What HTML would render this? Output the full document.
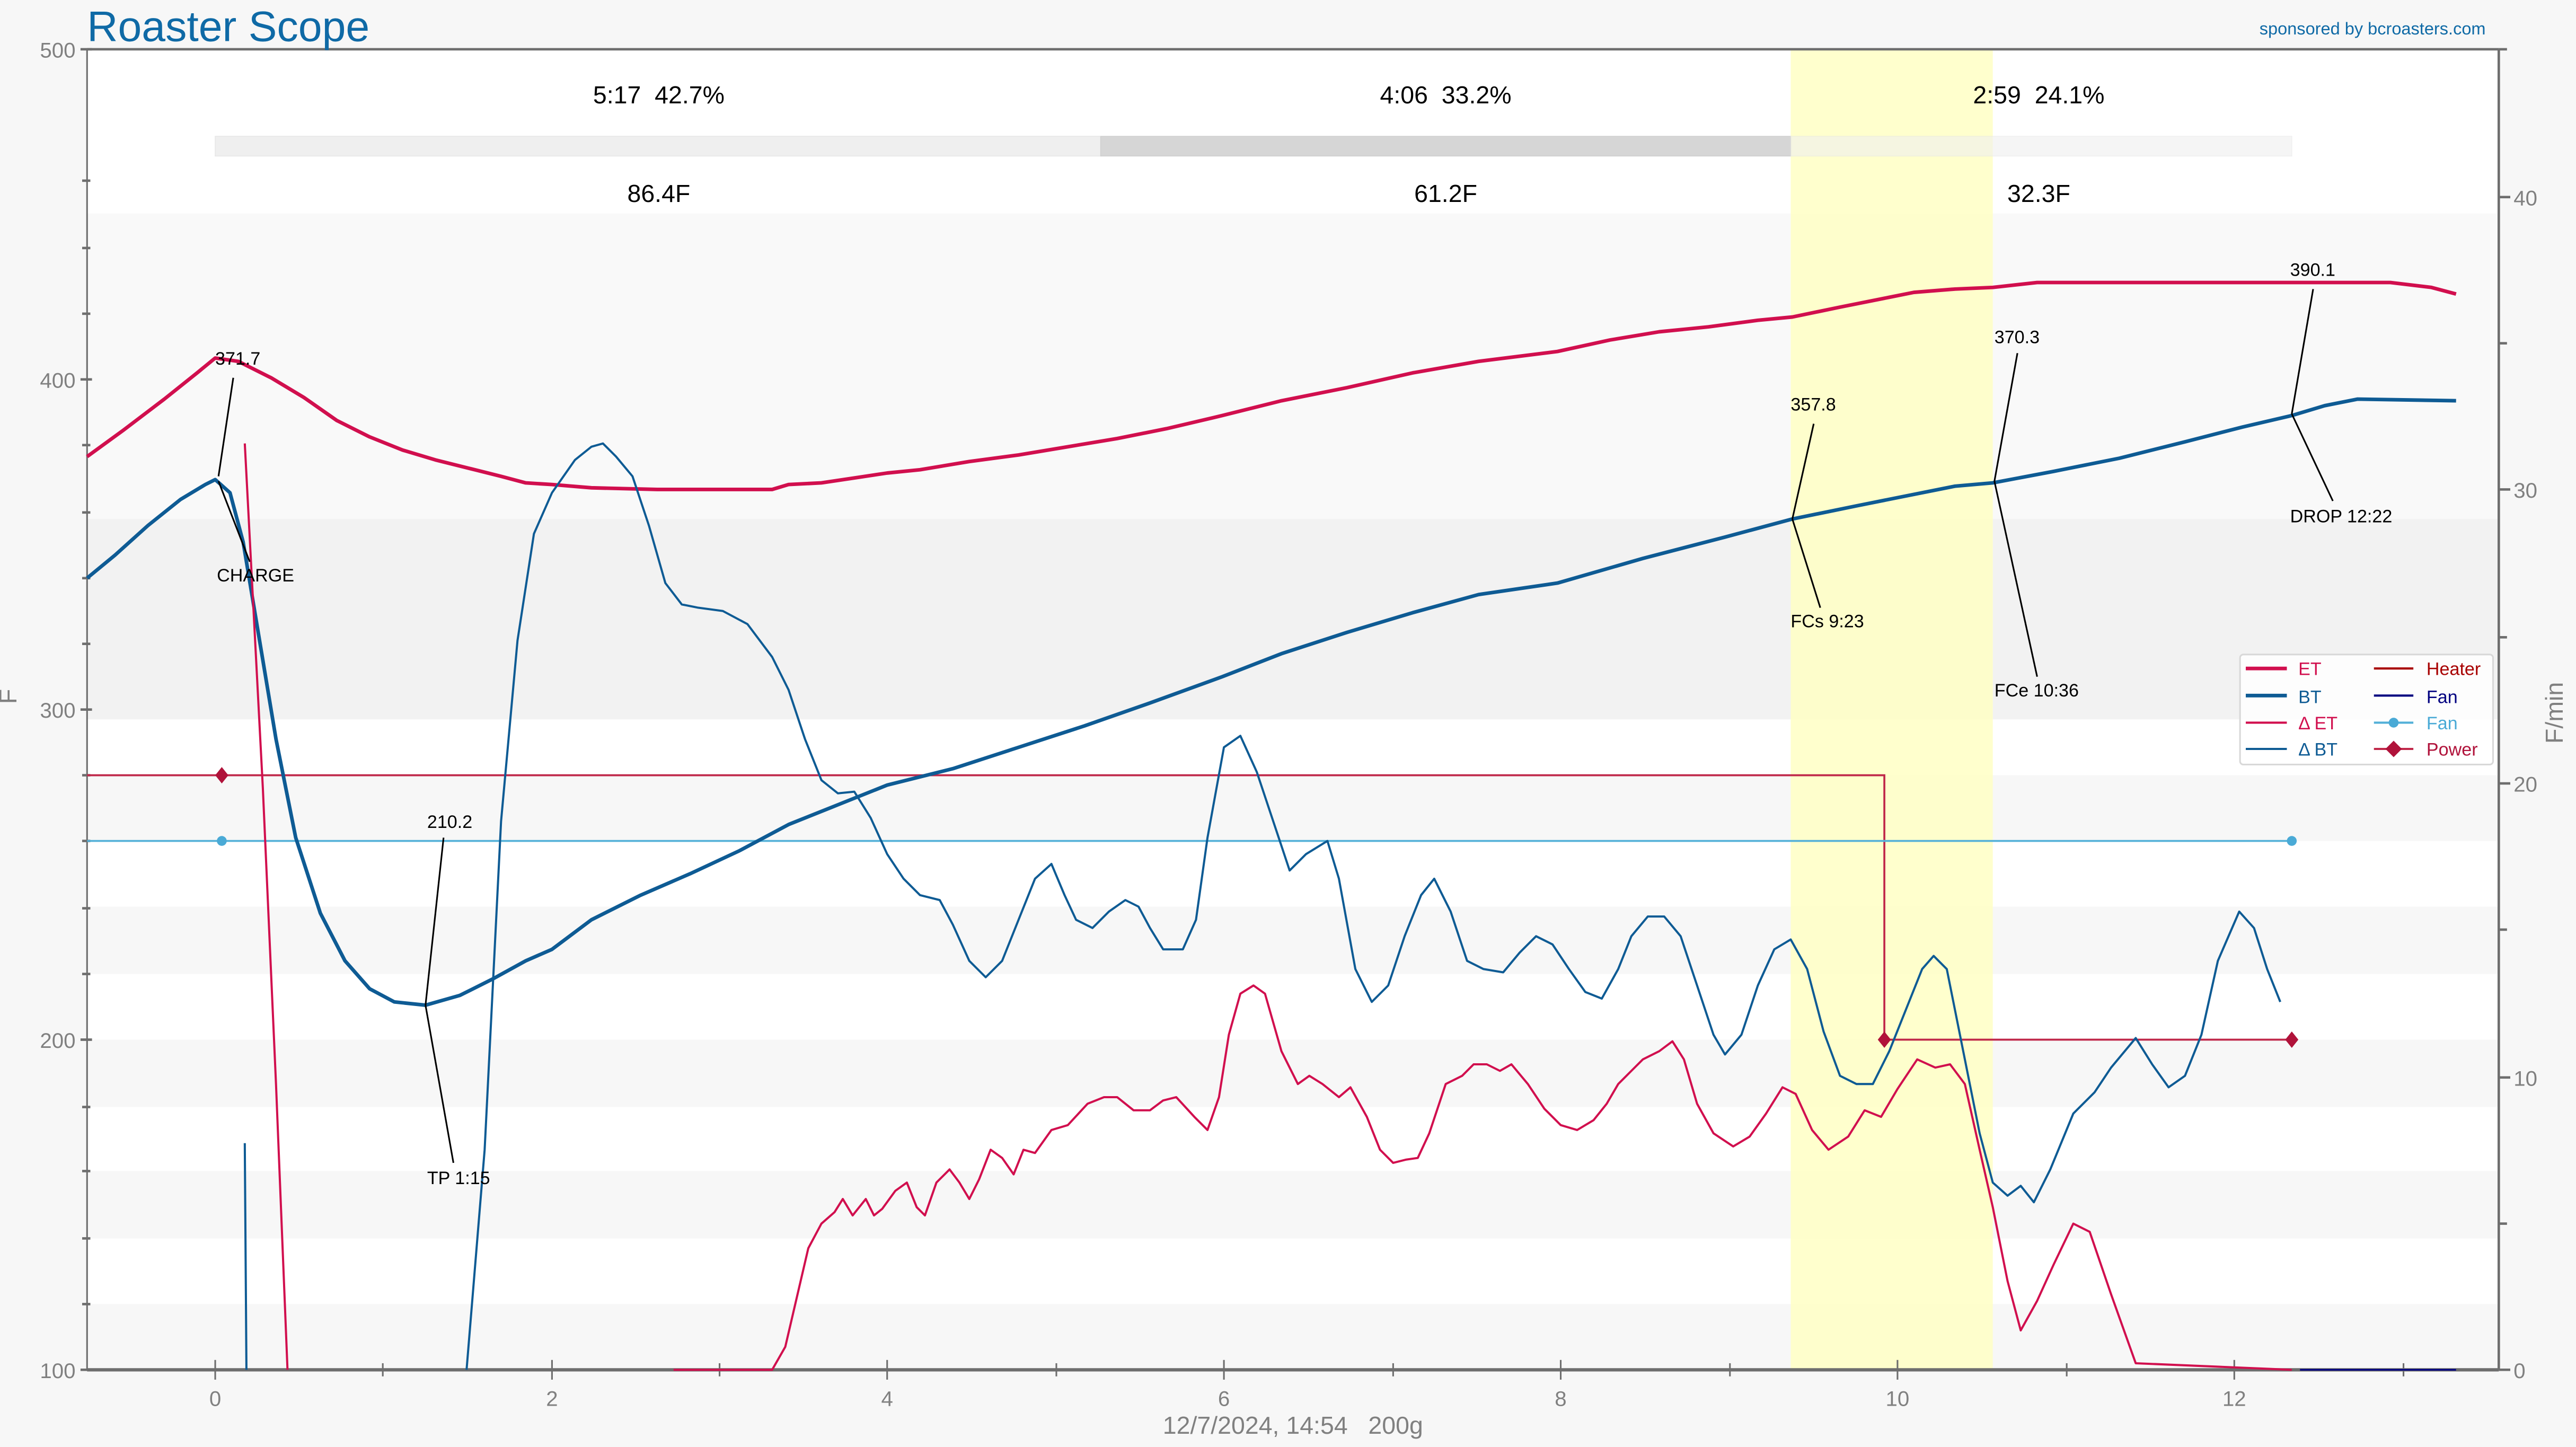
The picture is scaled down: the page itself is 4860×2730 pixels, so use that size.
<!DOCTYPE html>
<html><head><meta charset="utf-8"><style>
html,body{margin:0;padding:0;background:#f7f7f7;}
svg{display:block;font-family:"Liberation Sans",sans-serif;}
svg text{white-space:pre;}
</style></head><body>
<svg width="4860" height="2730" viewBox="0 0 1568 881" preserveAspectRatio="none" xmlns="http://www.w3.org/2000/svg" xml:space="preserve">
<rect x="0" y="0" width="1568" height="881" fill="#f7f7f7"/>
<rect x="53" y="30" width="1468" height="804" fill="#ffffff"/>
<rect x="53" y="130" width="1468" height="186" fill="#f9f9f9"/>
<rect x="53" y="316" width="1468" height="122" fill="#f2f2f2"/>
<g fill="#f7f7f7">
<rect x="53" y="472" width="1468" height="40"/>
<rect x="53" y="552" width="1468" height="41"/>
<rect x="53" y="633" width="1468" height="41"/>
<rect x="53" y="713" width="1468" height="41"/>
<rect x="53" y="794" width="1468" height="40"/>
</g>
<rect x="1090" y="30" width="123" height="804" fill="#ffffc4" opacity="0.85"/>
<rect x="131" y="83" width="539" height="12" fill="#efefef" stroke="#e6e6e6" stroke-width="0.5"/>
<rect x="670" y="83" width="420" height="12" fill="#d6d6d6" stroke="#cfcfcf" stroke-width="0.5"/>
<rect x="1090" y="83" width="305" height="12" fill="#efefef" opacity="0.6" stroke="#e6e6e6" stroke-width="0.5"/>
<g font-size="15" fill="#000" text-anchor="middle">
<text x="401" y="63">5:17  42.7%</text>
<text x="880" y="63">4:06  33.2%</text>
<text x="1241" y="63">2:59  24.1%</text>
<text x="401" y="123">86.4F</text>
<text x="880" y="123">61.2F</text>
<text x="1241" y="123">32.3F</text>
</g>
<g stroke="#6e6e6e">
<line x1="53" y1="30" x2="1521" y2="30" stroke-width="1.5"/>
<line x1="53" y1="834" x2="1521" y2="834" stroke-width="2"/>
<line x1="53" y1="30" x2="53" y2="834" stroke-width="1"/>
<line x1="1521" y1="30" x2="1521" y2="834" stroke-width="1.5"/>
</g>
<g stroke="#6e6e6e" stroke-width="1.5">
<line x1="49" y1="30" x2="56" y2="30"/><line x1="49" y1="231" x2="56" y2="231"/><line x1="49" y1="432" x2="56" y2="432"/><line x1="49" y1="633" x2="56" y2="633"/><line x1="49" y1="834" x2="56" y2="834"/>
<line x1="50" y1="110" x2="55" y2="110"/><line x1="50" y1="151" x2="55" y2="151"/><line x1="50" y1="191" x2="55" y2="191"/><line x1="50" y1="271" x2="55" y2="271"/><line x1="50" y1="312" x2="55" y2="312"/><line x1="50" y1="352" x2="55" y2="352"/><line x1="50" y1="392" x2="55" y2="392"/><line x1="50" y1="472" x2="55" y2="472"/><line x1="50" y1="512" x2="55" y2="512"/><line x1="50" y1="553" x2="55" y2="553"/><line x1="50" y1="593" x2="55" y2="593"/><line x1="50" y1="674" x2="55" y2="674"/><line x1="50" y1="713" x2="55" y2="713"/><line x1="50" y1="754" x2="55" y2="754"/><line x1="50" y1="794" x2="55" y2="794"/>
</g>
<g stroke="#6e6e6e" stroke-width="1">
<line x1="131" y1="828" x2="131" y2="840"/><line x1="233" y1="830" x2="233" y2="838"/><line x1="336" y1="828" x2="336" y2="840"/><line x1="438" y1="830" x2="438" y2="838"/><line x1="540" y1="828" x2="540" y2="840"/><line x1="643" y1="830" x2="643" y2="838"/><line x1="745" y1="828" x2="745" y2="840"/><line x1="848" y1="830" x2="848" y2="838"/><line x1="950" y1="828" x2="950" y2="840"/><line x1="1053" y1="830" x2="1053" y2="838"/><line x1="1155" y1="828" x2="1155" y2="840"/><line x1="1258" y1="830" x2="1258" y2="838"/><line x1="1360" y1="828" x2="1360" y2="840"/><line x1="1463" y1="830" x2="1463" y2="838"/>
</g>
<g stroke="#6e6e6e" stroke-width="1.5">
<line x1="1521" y1="834" x2="1528" y2="834"/><line x1="1521" y1="745" x2="1526" y2="745"/><line x1="1521" y1="656" x2="1528" y2="656"/><line x1="1521" y1="566" x2="1526" y2="566"/><line x1="1521" y1="477" x2="1528" y2="477"/><line x1="1521" y1="388" x2="1526" y2="388"/><line x1="1521" y1="298" x2="1528" y2="298"/><line x1="1521" y1="209" x2="1526" y2="209"/><line x1="1521" y1="120" x2="1528" y2="120"/><line x1="1521" y1="30" x2="1526" y2="30"/>
</g>
<g font-size="13" fill="#808080">
<g text-anchor="end"><text x="46" y="35">500</text><text x="46" y="236">400</text><text x="46" y="437">300</text><text x="46" y="638">200</text><text x="46" y="839">100</text></g>
<g text-anchor="start"><text x="1530" y="839">0</text><text x="1530" y="661">10</text><text x="1530" y="482">20</text><text x="1530" y="303">30</text><text x="1530" y="125">40</text></g>
<g text-anchor="middle"><text x="131" y="856">0</text><text x="336" y="856">2</text><text x="540" y="856">4</text><text x="745" y="856">6</text><text x="950" y="856">8</text><text x="1155" y="856">10</text><text x="1360" y="856">12</text></g>
<text x="10" y="424" font-size="15" text-anchor="middle" transform="rotate(-90 10 424)">F</text>
<text x="1560" y="434" font-size="15" text-anchor="middle" transform="rotate(-90 1560 434)">F/min</text>
<text x="787" y="873" font-size="15" text-anchor="middle">12/7/2024, 14:54   200g</text>
</g>
<text x="53" y="25" font-size="26" fill="#0f6aa6">Roaster Scope</text>
<text x="1513" y="21" font-size="10.5" fill="#0f6aa6" text-anchor="end">sponsored by bcroasters.com</text>
<polyline points="53,472 1147,472 1147,633 1395,633" fill="none" stroke="#c0284a" stroke-width="1.2"/>
<line x1="53" y1="512" x2="1395" y2="512" stroke="#53b0d8" stroke-width="1.2"/>
<line x1="1400" y1="834" x2="1495" y2="834" stroke="#000080" stroke-width="1"/>
<circle cx="135" cy="512" r="3" fill="#4aaad6"/><circle cx="1395" cy="512" r="3" fill="#4aaad6"/>
<g fill="#b0123a"><path d="M135,467 L139,472 135,477 131,472Z"/><path d="M1147,628 L1151,633 1147,638 1143,633Z"/><path d="M1395,628 L1399,633 1395,638 1391,633Z"/></g>
<polyline fill="none" stroke="#d10f4e" stroke-width="2.2" stroke-linejoin="round" points="53,278 75,262 100,243 120,227 131,218 145,220 165,230 185,242 205,256 225,266 245,274 265,280 285,285 305,290 320,294 336,295 360,297 400,298 440,298 470,298 480,295 500,294 520,291 540,288 560,286 590,281 620,277 650,272 680,267 710,261 744,253 780,244 820,236 860,227 900,220 948,214 980,207 1010,202 1040,199 1070,195 1091,193 1120,187 1150,181 1165,178 1190,176 1213,175 1240,172 1300,172 1455,172 1480,175 1495,179"/>
<polyline fill="none" stroke="#0e5b94" stroke-width="2.2" stroke-linejoin="round" points="53,352 70,338 90,320 110,304 125,295 131,292 140,300 148,330 158,390 168,450 180,510 195,556 210,585 225,602 240,610 259,612 280,606 300,596 320,585 336,578 360,560 390,545 420,532 450,518 480,502 510,490 540,478 580,468 620,455 660,442 700,428 744,412 780,398 820,385 860,373 900,362 948,355 1000,340 1050,327 1091,316 1130,308 1160,302 1190,296 1213,294 1250,287 1290,279 1330,269 1365,260 1395,253 1415,247 1435,243 1495,244"/>
<polyline fill="none" stroke="#d10f4e" stroke-width="1.3" stroke-linejoin="round" points="149,270 160,480 168,660 175,834"/>
<polyline fill="none" stroke="#d10f4e" stroke-width="1.3" stroke-linejoin="round" points="410,834 470,834 478,820 485,790 492,760 500,745 508,738 513,730 519,740 527,730 532,740 537,736 545,725 552,720 558,735 563,740 570,720 578,712 584,720 590,730 596,718 603,700 610,705 617,715 623,700 630,702 640,688 650,685 662,672 672,668 680,668 690,676 700,676 708,670 716,668 727,680 735,688 742,668 748,630 755,605 763,600 770,605 780,640 790,660 797,655 805,660 815,668 822,662 832,680 840,700 848,708 856,706 863,705 870,690 880,660 890,655 897,648 905,648 913,652 920,648 930,660 940,675 950,685 960,688 970,682 978,672 985,660 993,652 1000,645 1010,640 1018,634 1025,645 1033,672 1043,690 1055,698 1065,692 1075,678 1085,662 1093,666 1103,688 1113,700 1125,692 1135,676 1145,680 1155,663 1167,645 1178,650 1187,648 1196,660 1205,700 1213,735 1222,780 1230,810 1240,792 1250,770 1262,745 1272,750 1285,788 1300,830 1395,834"/>
<polyline fill="none" stroke="#0e5b94" stroke-width="1.3" stroke-linejoin="round" points="149,696 150,834"/>
<polyline fill="none" stroke="#0e5b94" stroke-width="1.3" stroke-linejoin="round" points="284,834 295,700 305,500 315,390 325,325 336,300 350,280 360,272 367,270 375,278 385,290 395,320 405,355 415,368 425,370 440,372 455,380 470,400 480,420 490,450 500,475 510,483 520,482 530,498 540,520 550,535 560,545 572,548 580,563 590,585 600,595 610,585 620,560 630,535 640,526 648,545 655,560 665,565 675,555 685,548 693,552 700,565 708,578 720,578 728,560 735,510 745,455 755,448 765,470 775,500 785,530 795,520 808,512 815,535 825,590 835,610 845,600 855,570 865,545 873,535 883,555 893,585 903,590 915,592 925,580 935,570 945,575 955,590 965,604 975,608 985,590 993,570 1003,558 1013,558 1023,570 1033,600 1043,630 1050,642 1060,630 1070,600 1080,578 1090,572 1100,590 1110,628 1120,655 1130,660 1140,660 1150,640 1160,615 1170,590 1177,582 1185,590 1195,640 1205,690 1213,720 1222,728 1230,722 1238,732 1248,712 1262,678 1275,665 1285,650 1300,632 1310,648 1320,662 1330,655 1340,630 1350,585 1363,555 1372,565 1380,590 1388,610"/>
<g stroke="#000" stroke-width="1" fill="none">
<line x1="142" y1="230" x2="133" y2="290"/><line x1="133" y1="293" x2="152" y2="342"/>
<line x1="270" y1="510" x2="259" y2="612"/><line x1="259" y1="612" x2="276" y2="708"/>
<line x1="1104" y1="258" x2="1091" y2="316"/><line x1="1091" y1="316" x2="1108" y2="370"/>
<line x1="1228" y1="215" x2="1214" y2="293"/><line x1="1214" y1="293" x2="1240" y2="412"/>
<line x1="1408" y1="176" x2="1395" y2="252"/><line x1="1395" y1="252" x2="1420" y2="305"/>
</g>
<g font-size="11" fill="#000">
<text x="131" y="222">371.7</text><text x="132" y="354">CHARGE</text>
<text x="260" y="504">210.2</text><text x="260" y="721">TP 1:15</text>
<text x="1090" y="250">357.8</text><text x="1090" y="382">FCs 9:23</text>
<text x="1214" y="209">370.3</text><text x="1214" y="424">FCe 10:36</text>
<text x="1394" y="168">390.1</text><text x="1394" y="318">DROP 12:22</text>
</g>
<rect x="1363.5" y="398.5" width="154" height="67" rx="2" fill="#ffffff" fill-opacity="0.8" stroke="#d8d8d8"/>
<g stroke-width="2">
<line x1="1367" y1="407" x2="1392" y2="407" stroke="#d10f4e" stroke-width="2.2"/>
<line x1="1367" y1="423.5" x2="1392" y2="423.5" stroke="#0e5b94" stroke-width="2.2"/>
<line x1="1367" y1="440" x2="1392" y2="440" stroke="#d10f4e" stroke-width="1.3"/>
<line x1="1367" y1="456" x2="1392" y2="456" stroke="#0e5b94" stroke-width="1.3"/>
<line x1="1445" y1="407" x2="1469" y2="407" stroke="#a80000" stroke-width="1.3"/>
<line x1="1445" y1="423.5" x2="1469" y2="423.5" stroke="#000080" stroke-width="1.3"/>
<line x1="1445" y1="440" x2="1469" y2="440" stroke="#53b0d8" stroke-width="1.3"/>
<line x1="1445" y1="456" x2="1469" y2="456" stroke="#c0284a" stroke-width="1.3"/>
</g>
<circle cx="1457" cy="440" r="3" fill="#4aaad6"/>
<path d="M1457,451 L1462,456 1457,461 1452,456Z" fill="#b0123a"/>
<g font-size="11">
<text x="1399" y="411" fill="#d10f4e">ET</text>
<text x="1399" y="428" fill="#0e5b94">BT</text>
<text x="1399" y="444" fill="#d10f4e">Δ ET</text>
<text x="1399" y="460" fill="#0e5b94">Δ BT</text>
<text x="1477" y="411" fill="#a80000">Heater</text>
<text x="1477" y="428" fill="#000080">Fan</text>
<text x="1477" y="444" fill="#4aaad6">Fan</text>
<text x="1477" y="460" fill="#b0123a">Power</text>
</g>
</svg>
</body></html>
